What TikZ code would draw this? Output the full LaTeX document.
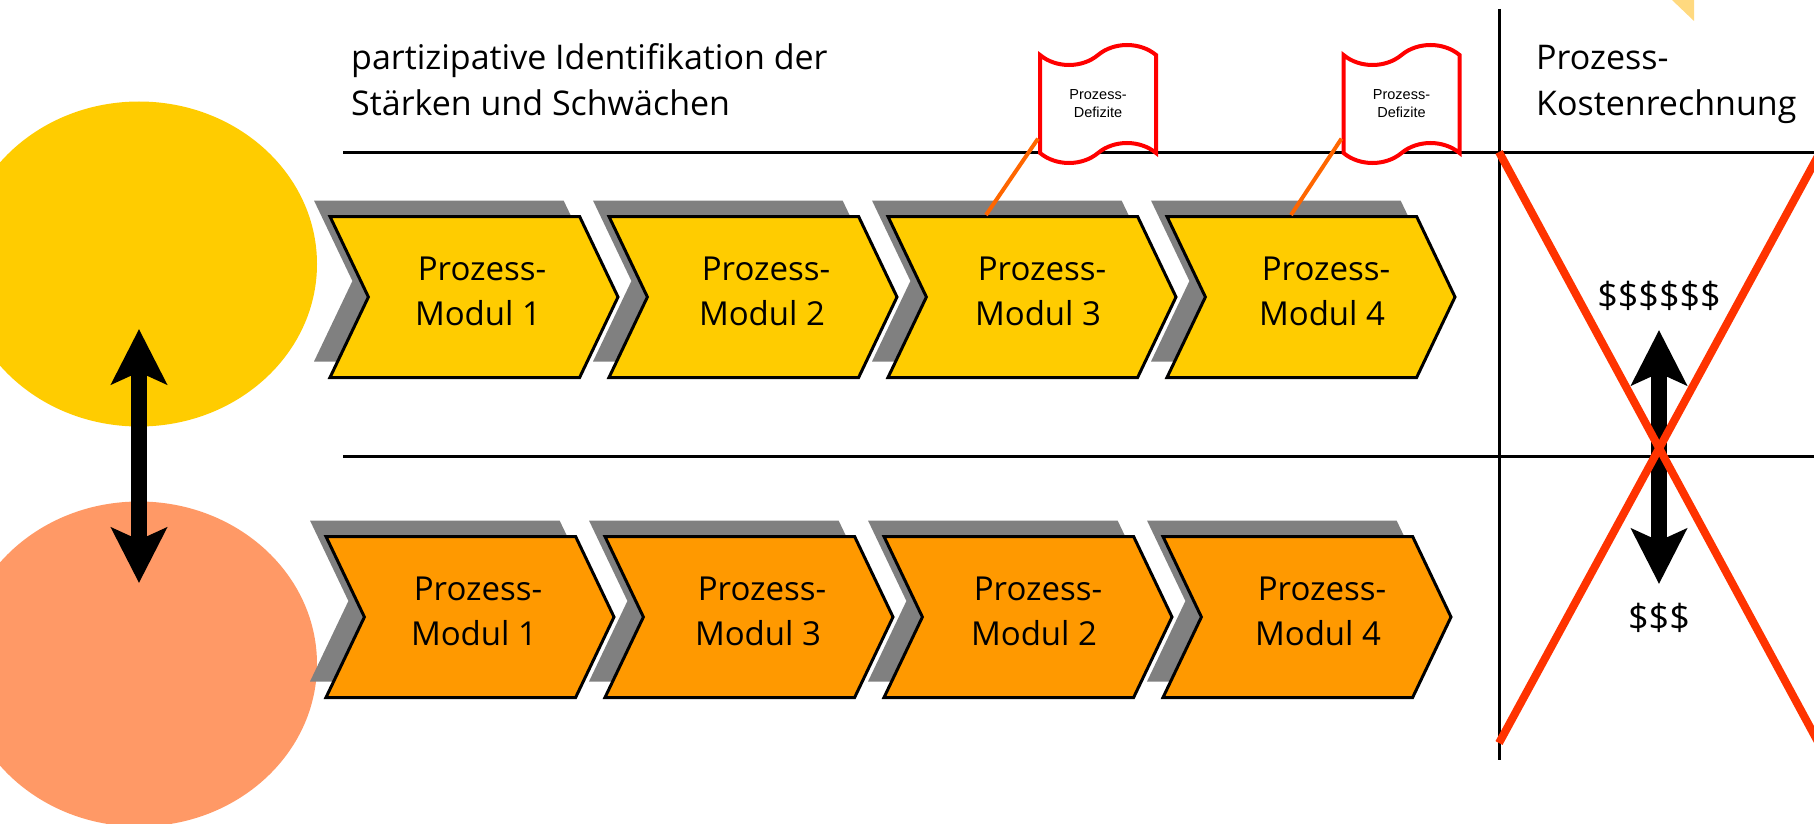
\documentclass[tikz,border=0pt]{standalone}
\usepackage{fontspec}
\usepackage{xcolor}
\usepackage{tikz}
\usetikzlibrary{positioning}
\usetikzlibrary{arrows.meta}
\usetikzlibrary{shapes.geometric}
\usetikzlibrary{shapes.symbols}
\usetikzlibrary{shadows}
\setmainfont{Open Sans}
\definecolor{sonne}{HTML}{FFCC00}
\definecolor{lachs}{HTML}{FF9966}
\definecolor{orangefill}{HTML}{FF9900}
\definecolor{kreuzrot}{HTML}{FF3300}
\definecolor{stiel}{HTML}{FF6600}
\definecolor{ecke}{HTML}{FFD97F}
\newcommand{\modlabel}[1]{\hspace*{8pt}Prozess-\\Modul #1}
\tikzset {
  node distance={279pt},
  % process chevrons
  modul/.style = {shape=signal, signal from=west, signal to=east, signal pointer angle=129,
    draw=black, line width=3pt, line join=miter, minimum width=288pt, minimum height=161pt, inner sep=0pt,
    drop shadow={shadow xshift=-16pt, shadow yshift=16pt, fill=gray, opacity=1}},
  modgelb/.style = {modul, fill=sonne},
  modorange/.style = {modul, fill=orangefill},
  modtext/.style = {align=center, font=\fontsize{33}{45}\selectfont, inner sep=0pt},
  % big blobs on the left
  blob/.style = {shape=ellipse, inner sep=0pt, minimum width=356pt, minimum height=325pt},
  % flags
  flagge/.style = {shape=tape, tape bend top=in and out, tape bend bottom=in and out, tape bend height=20pt,
    draw=red, fill=white, line width=4pt, minimum width=116pt, minimum height=118pt, inner sep=0pt,
    align=center, font=\fontsize{14.5}{18}\selectfont\fontspec{Liberation Sans}},
  stielline/.style = {stiel, line width=4pt},
  rule/.style = {black, line width=3pt},
  kreuz/.style = {kreuzrot, line width=8pt},
  dblarrow/.style = {black, line width=16.7pt, {Stealth[length=55pt,width=55pt,inset=12pt]}-{Stealth[length=55pt,width=55pt,inset=12pt]}},
  titel/.style = {anchor=base west, align=left, inner sep=0pt, font=\fontsize{34}{46}\selectfont},
  dollar/.style = {anchor=base, inner sep=0pt, font=\fontsize{36}{46}\selectfont},
}
\begin{document}
\begin{tikzpicture}[x=1pt, y=-1pt]
  \clip (0,0) rectangle (1814,824);
  \fill[ecke] (1672,0) -- (1694,0) -- (1694,21) -- cycle;

  \node[blob, fill=sonne] (kreis1) at (139,264) {};
  \node[blob, fill=lachs] (kreis2) at (139,664) {};

  % upper row
  \node[modgelb, label={[modtext, xshift=4pt, yshift=6pt]center:\modlabel{1}}] (a1) at (474,297) {};
  \node[modgelb, right of=a1, label={[modtext, xshift=9pt, yshift=6pt]center:\modlabel{2}}] (a2) {};
  \node[modgelb, right of=a2, label={[modtext, xshift=6pt, yshift=6pt]center:\modlabel{3}}] (a3) {};
  \node[modgelb, right of=a3, label={[modtext, xshift=11pt, yshift=6pt]center:\modlabel{4}}] (a4) {};

  % lower row
  \node[modorange, label={[modtext, xshift=4pt, yshift=6pt]center:\modlabel{1}}] (b1) at (470,617) {};
  \node[modorange, right of=b1, label={[modtext, xshift=9pt, yshift=6pt]center:\modlabel{3}}] (b2) {};
  \node[modorange, right of=b2, label={[modtext, xshift=6pt, yshift=6pt]center:\modlabel{2}}] (b3) {};
  \node[modorange, right of=b3, label={[modtext, xshift=11pt, yshift=6pt]center:\modlabel{4}}] (b4) {};

  % frame lines
  \coordinate (r1a) at (343,152.5);
  \coordinate (r1b) at (1814,152.5);
  \coordinate (r2a) at (343,456);
  \coordinate (r2b) at (1814,456);
  \coordinate (va) at (1499,9);
  \coordinate (vb) at (1499,760);
  \draw[rule] (r1a) -- (r1b);
  \draw[rule] (r2a) -- (r2b);
  \draw[rule] (va) -- (vb);

  % flags with their stems
  \node[flagge] (f3) at (1098,104) {Prozess-\\Defizite};
  \node[flagge, right of=f3, node distance=303.5pt] (f4) {Prozess-\\Defizite};
  \draw[stielline] (f3.210) -- ([xshift=-46pt]a3.north);
  \draw[stielline] (f4.210) -- ([xshift=-20pt]a4.north);

  \node[titel] (t1) at (351,116) {partizipative Identifikation der\\Stärken und Schwächen};
  \node[titel] (t2) at (1536,116) {Prozess-\\Kostenrechnung};
  \node[dollar] (d1) at (1659,308) {\$\$\$\$\$\$};
  \node[dollar] (d2) at (1659,630) {\$\$\$};

  % arrows
  \coordinate (p1a) at (139,329);
  \coordinate (p1b) at (139,583);
  \coordinate (p2a) at (1659,330);
  \coordinate (p2b) at (1659,584);
  \draw[dblarrow] (p1a) -- (p1b);
  \draw[dblarrow] (p2a) -- (p2b);

  % red cross
  \coordinate (x1a) at (1499,152);
  \coordinate (x1b) at (1824,753);
  \coordinate (x2a) at (1499,743);
  \coordinate (x2b) at (1824,145);
  \draw[kreuz] (x1a) -- (x1b);
  \draw[kreuz] (x2a) -- (x2b);
\end{tikzpicture}
\end{document}
